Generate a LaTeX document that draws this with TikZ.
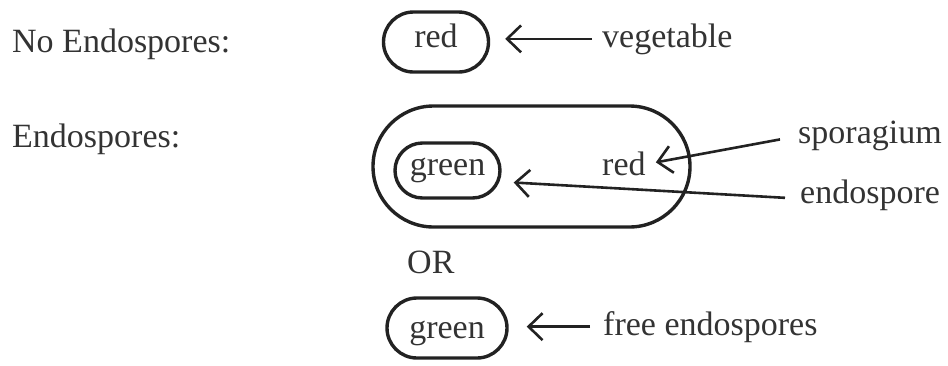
\documentclass[tikz,border=0pt]{standalone}
\usepackage{fontspec}
\setmainfont{Liberation Serif}
\usetikzlibrary{shapes.misc,arrows.meta}
\definecolor{ink}{HTML}{222222}
\definecolor{txt}{HTML}{333333}

\begin{document}
\begin{tikzpicture}[x=1pt,y=1pt,
  every node/.style={font=\fontsize{34}{40}\selectfont, text=txt},
  lbl/.style={anchor=base west, inner sep=0pt},
  cell/.style={draw=ink, line width=3.4pt, rounded rectangle, inner sep=0pt,
    text height=20pt, text depth=10pt},
  link/.style={-{Straight Barb[length=14pt,width=27pt]}, draw=ink, line width=2.6pt}]
  \useasboundingbox (0pt, 0pt) rectangle (948pt, -365pt);
  % left hand labels
  \draw (12.0pt, -52.0pt)node[lbl](noendo){No Endospores:};
  \draw (12.0pt, -147.0pt)node[lbl](endo){Endospores:};
  \draw (407.0pt, -273.0pt)node[lbl](or){OR};
  % cells
  \draw (436.0pt, -42.0pt)node[cell, minimum width=105pt, minimum height=60pt](redA){red};
  \draw (531.5pt, -166.5pt)node[cell, minimum width=317pt, minimum height=121pt](spor){};
  \draw (447.5pt, -170.5pt)node[cell, minimum width=105pt, minimum height=55pt](greenA){green};
  \draw (602.0pt, -175.0pt)node[lbl](redB){red};
  \draw (447.0pt, -328.0pt)node[cell, minimum width=120pt, minimum height=60pt,
    text height=25pt, text depth=5pt](greenB){green};
  % right hand labels
  \draw (602.0pt, -47.0pt)node[lbl](veg){vegetable};
  \draw (798.0pt, -143.0pt)node[lbl](sporlbl){sporagium};
  \draw (800.0pt, -203.0pt)node[lbl](endolbl){endospore};
  \draw (603.0pt, -335.0pt)node[lbl](free){free endospores};
  % arrows
  \draw[link, shorten <=10pt, shorten >=15pt] (veg.west) -- (veg.west -| redA.east);
  \draw[link] ([xshift=-18pt, yshift=-4pt]sporlbl.west) -- ([xshift=10pt, yshift=1pt]redB.east);
  \draw[link] ([xshift=-15pt, yshift=-3pt]endolbl.west) -- ([xshift=12pt, yshift=-12pt]greenA.east);
  \draw[link, shorten <=13pt, shorten >=18pt] (free.west) -- (free.west -| greenB.east);
\end{tikzpicture}
\end{document}
